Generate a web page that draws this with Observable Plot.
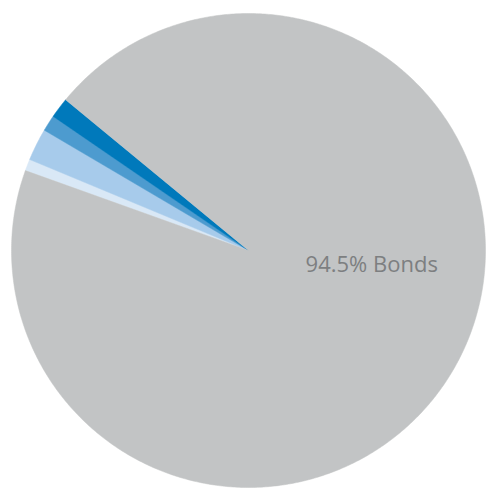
<!DOCTYPE html>
<html>
<head>
<meta charset="utf-8">
<script src="https://cdn.jsdelivr.net/npm/d3@7"></script>
<script src="https://cdn.jsdelivr.net/npm/@observablehq/plot@0.6"></script>
<style>
  html, body { margin: 0; padding: 0; background: #fff; }
</style>
</head>
<body>
<div id="chart"></div>
<script>
// Slices in clockwise order
const labels = ["Other 1", "Other 2", "Other 3", "Other 4", "Bonds"];
const values = [0.8, 2.2, 1.1, 1.4, 94.5];
const colors = ["#d9e8f6", "#a7cbeb", "#4d9bcf", "#0079bb", "#c2c4c5"];
const labelText = "94.5% Bonds";

const startDeg = 289.7; // clockwise from 12 o'clock

const pie = d3.pie().sort(null).value(d => d.value)
  .startAngle(startDeg * Math.PI / 180)
  .endAngle((startDeg + 360) * Math.PI / 180);
const arcs = pie(labels.map((l, i) => ({label: l, value: values[i]})));

// polygon points for each slice (unit radius)
const pts = [];
for (const a of arcs) {
  const n = Math.max(2, Math.ceil((a.endAngle - a.startAngle) / (Math.PI / 360)));
  pts.push({slice: a.data.label, x: 0, y: 0});
  for (let k = 0; k <= n; k++) {
    const t = a.startAngle + (a.endAngle - a.startAngle) * k / n;
    pts.push({slice: a.data.label, x: Math.sin(t), y: Math.cos(t)});
  }
  pts.push({slice: a.data.label, x: 0, y: 0});
}

const cx = 248, cy = 250, r = 237;

const chart = Plot.plot({
  width: 486,
  height: 492,
  margin: 0,
  x: {domain: [-1, 1], range: [cx - r, cx + r], axis: null},
  y: {domain: [-1, 1], range: [cy + r, cy - r], axis: null},
  color: {type: "ordinal", domain: labels, range: colors},
  marks: [
    Plot.line(pts, {x: "x", y: "y", z: "slice", fill: "slice", stroke: "slice", strokeWidth: 0.5, curve: "linear"}),
    Plot.text([labelText], {x: 0.52, y: -0.06, text: d => d, fill: "#7d7f81", fontSize: 22, fontFamily: "Open Sans", textAnchor: "middle"})
  ]
});
document.getElementById("chart").appendChild(chart);
</script>
</body>
</html>
